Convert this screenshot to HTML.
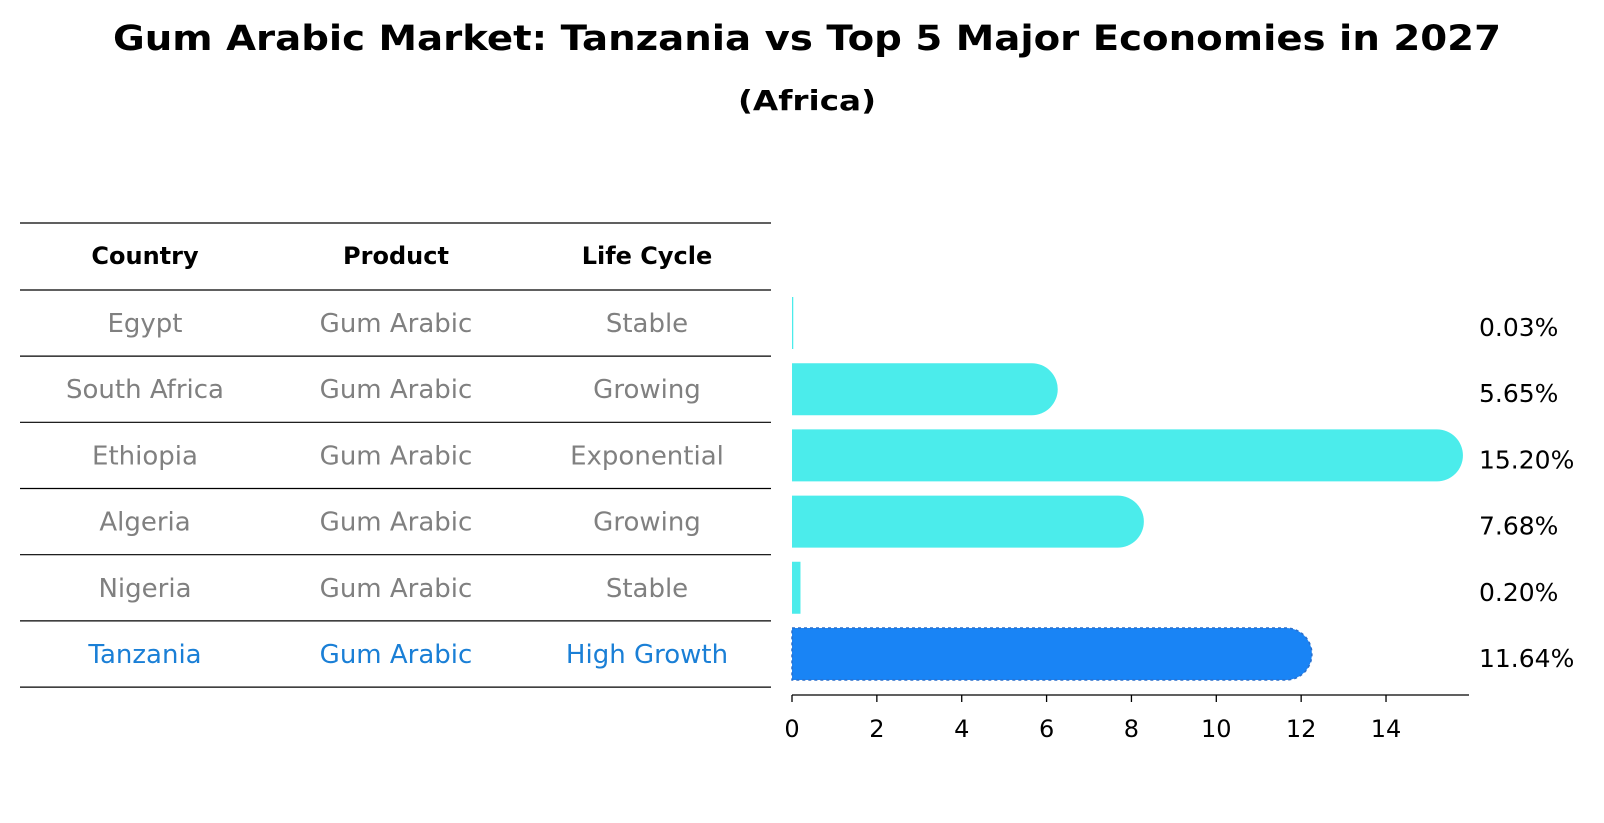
<!DOCTYPE html>
<html><head><meta charset="utf-8"><style>body{margin:0;background:#fff}svg{display:block}text{font-family:"DejaVu Sans","Liberation Sans",sans-serif}</style></head>
<body>
<svg id="chart" width="1604" height="823" xmlns="http://www.w3.org/2000/svg">
<text x="807" y="50" text-anchor="middle" font-size="35" font-weight="bold" textLength="1388" lengthAdjust="spacingAndGlyphs">Gum Arabic Market: Tanzania vs Top 5 Major Economies in 2027</text>
<text x="807" y="110" text-anchor="middle" font-size="28" font-weight="bold" textLength="138" lengthAdjust="spacingAndGlyphs">(Africa)</text>
<g id="table"></g>
<g id="bars"></g>
<g id="axis"></g>
</svg>
<script>
const countries = ["Egypt","South Africa","Ethiopia","Algeria","Nigeria","Tanzania"];
const products = ["Gum Arabic","Gum Arabic","Gum Arabic","Gum Arabic","Gum Arabic","Gum Arabic"];
const lifeCycles = ["Stable","Growing","Exponential","Growing","Stable","High Growth"];
const values = [0.03,5.65,15.20,7.68,0.20,11.64];
const valueLabels = ["0.03%","5.65%","15.20%","7.68%","0.20%","11.64%"];
const xTicks = [0,2,4,6,8,10,12,14];

const NS="http://www.w3.org/2000/svg";
const X0=792, UNIT=42.43;
const xs=v=>X0+v*UNIT;
const rowC=i=>323+i*66.2;
function mk(tag,attrs,parent,text){const e=document.createElementNS(NS,tag);for(const k in attrs)e.setAttribute(k,attrs[k]);if(text!==undefined)e.textContent=text;parent.appendChild(e);return e;}

const tbl=document.getElementById('table');
const lineYs=[223,290];
for(let i=0;i<countries.length;i++) lineYs.push(rowC(i)+33.1);
lineYs.forEach((y,i)=>{
  const l=mk('line',{x1:20,x2:771,y1:y,y2:y,stroke:'#000','stroke-width':1.2},tbl);
  
  
});
const colX=[145,396,647];
["Country","Product","Life Cycle"].forEach((h,j)=>{
  const t=mk('text',{x:colX[j],y:264,'text-anchor':'middle','font-size':24,'font-weight':'bold'},tbl,h);
  
  
});
countries.forEach((c,i)=>{
  const col=c==="Tanzania"?"#1a7fd6":"#808080";
  [c,products[i],lifeCycles[i]].forEach((s,j)=>{
    const t=mk('text',{x:colX[j],y:rowC(i)+9,'text-anchor':'middle','font-size':26,fill:col},tbl,s);
    
    
  });
});

const bars=document.getElementById('bars');
const H=52,R=26;
values.forEach((v,i)=>{
  const cy=rowC(i), top=cy-H/2, x1=xs(v);
  const hi=countries[i]==="Tanzania";
  const fill=hi?"#1984f5":"#4beceb";
  let d;
  if(x1-X0>2*R){
    d=`M${X0},${top} H${x1} A${R},${R} 0 0 1 ${x1},${top+H} H${X0} Z`;
  } else {
    const w=Math.max(x1-X0,1.2);
    d=`M${X0},${top} h${w} v${H} h${-w} Z`;
  }
  const p=mk('path',{d:d,fill:fill},bars);
  if(hi){p.setAttribute('stroke','#2a6fcc');p.setAttribute('stroke-dasharray','3,3');p.setAttribute('stroke-width','1.5');}
  
  
  const t=mk('text',{x:1479,y:cy+13,'font-size':25},bars,valueLabels[i]);
  
  
});

const ax=document.getElementById('axis');
mk('line',{x1:X0,x2:1469,y1:695,y2:695,stroke:'#000','stroke-width':1.3},ax);
xTicks.forEach(v=>{
  const l=mk('line',{x1:xs(v),x2:xs(v),y1:695,y2:702,stroke:'#000','stroke-width':1.3},ax);
  
  
  const t=mk('text',{x:xs(v),y:737,'text-anchor':'middle','font-size':24},ax,String(v));
  
  
});
</script>
</body></html>
